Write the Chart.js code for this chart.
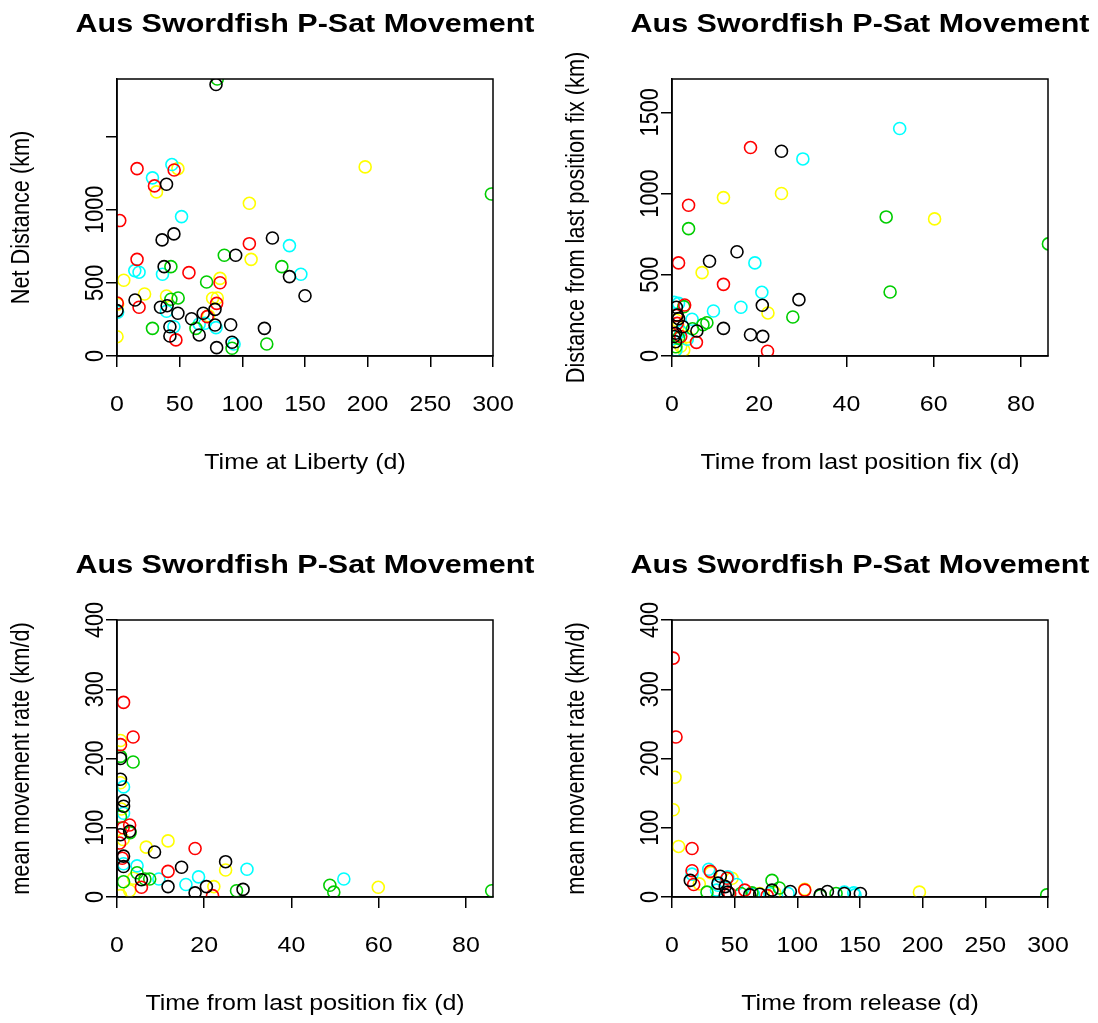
<!DOCTYPE html>
<html>
<head>
<meta charset="utf-8">
<script src="https://cdn.jsdelivr.net/npm/chart.js@4.4.1/dist/chart.umd.min.js"></script>
<style>
  body { margin: 0; background: #fff; width: 1098px; height: 1023px; position: relative; overflow: hidden; }
  canvas { position: absolute; }
</style>
</head>
<body>
<canvas id="c1" width="543" height="482" style="left:0;top:0"></canvas>
<canvas id="c2" width="543" height="482" style="left:555px;top:0"></canvas>
<canvas id="c3" width="543" height="482" style="left:0;top:541px"></canvas>
<canvas id="c4" width="543" height="482" style="left:555px;top:541px"></canvas>
<script>
// colours used per tag group (R palette: black, red, green3, cyan, yellow)
const seriesColors = ['#000000', '#FF0000', '#00CD00', '#00FFFF', '#FFFF00'];

// tick values
const releaseTicks = [0, 50, 100, 150, 200, 250, 300];
const fixTicks = [0, 20, 40, 60, 80];
const distTicks = [0, 500, 1000, 1500];
const rateTicks = [0, 100, 200, 300, 400];

// Panel 1: time at liberty (d) vs net distance (km)
const libBlack = [[0,310],[14.4,383],[34.7,333],[40,344],[36,794],[37.6,611],[39.5,1174],[42.2,200],[42.2,137],[45.4,835],[48.6,292],[59.5,255],[65.6,144],[68.8,292],[78.2,319],[78.2,212],[79,1856],[79.5,57],[90.7,214],[91.8,94],[94.7,689],[117.6,189],[124,807],[137.6,543],[150,412]];
const libRed = [[0.2,362],[2.2,926],[16,1281],[16,661],[17.6,333],[29.9,1163],[45.6,1272],[47,110],[57.4,570],[72,269],[79.5,360],[82.2,501],[105.6,768]];
const libGreen = [[28.3,189],[43,611],[43,388],[48.8,397],[63,189],[71.5,506],[80,1894],[85.6,689],[91.8,53],[119.5,82],[131.5,611],[298.7,1108]];
const libCyan = [[0.5,300],[14.2,584],[17.6,573],[28.3,1218],[36.3,559],[39.5,306],[43.8,1309],[45.4,200],[51.5,953],[65.6,219],[70.2,224],[79,194],[93.4,82],[137.6,755],[146.7,559]];
const libYellow = [[0,132],[0.5,355],[5.4,518],[22,424],[31.5,1122],[39.5,410],[48.6,1281],[73,275],[76.3,395],[80,397],[82.2,531],[105.6,1044],[107,661],[198,1293]];

// Panel 2: time from last position fix (d) vs distance from last fix (km)
const fixBlack = [[0.8,140],[0.8,88],[1.2,252],[1,300],[1.5,230],[2.5,180],[0.5,120],[5.7,154],[8.6,583],[11.8,170],[14.9,642],[18,131],[20.8,121],[20.7,312],[25.1,1260],[29.1,347]];
const fixRed = [[1.2,201],[1.5,573],[2.9,314],[3.8,928],[5.6,84],[11.8,441],[18,1283],[21.9,29],[1,250],[2,120]];
const fixGreen = [[0.9,57],[2.7,304],[3.8,784],[4.7,168],[7.1,193],[8,205],[27.7,240],[49.1,856],[50,394],[86.3,690],[1.5,110]];
const fixCyan = [[0.9,37],[1.5,324],[3.5,103],[4.6,226],[9.5,277],[15.8,300],[19,573],[20.6,392],[30,1213],[52.2,1400],[0.5,330],[2,150]];
const fixYellow = [[1.4,181],[2.7,37],[3.5,119],[6.9,513],[11.8,975],[22,265],[25.1,1000],[60.2,844],[1,220],[2,60]];

// Panel 3: time from last position fix (d) vs mean movement rate (km/d)
const rateFixBlack = [[0.8,200],[0.8,170],[1.5,139],[1.5,131],[2.9,95],[0.8,90],[1.5,59],[1.5,44],[5.6,25],[8.6,65],[11.7,15],[14.8,43],[17.9,6],[20.5,15],[24.9,51],[28.9,11]];
const rateFixRed = [[0.8,220],[1.5,281],[3.7,231],[2.9,104],[1.4,100],[0.6,78],[1.2,56],[5.6,14],[11.7,37],[17.9,70],[21.9,2]];
const rateFixGreen = [[0.8,203],[3.7,195],[0.8,116],[3,93],[4.6,35],[6.4,26],[7.5,26],[1.5,22],[27.4,9],[48.8,17],[49.7,7],[85.9,9]];
const rateFixCyan = [[1.5,159],[1.5,121],[1.5,48],[4.6,45],[9.6,26],[15.8,18],[18.7,29],[29.8,40],[52,26]];
const rateFixYellow = [[0.8,226],[0.8,165],[1,127],[1.4,83],[3.8,27],[2.9,9],[0.8,2],[6.7,72],[11.7,81],[22.2,15],[24.9,39],[59.9,14]];

// Panel 4: time from release (d) vs mean movement rate (km/d)
const rateRelBlack = [[14.6,24],[36.7,20],[38.5,30],[42.5,15],[42.5,3],[44.5,7],[62,3],[70,4],[79.8,10],[94.4,8],[118.3,3],[124,8],[137.5,5],[150.3,5]];
const rateRelRed = [[1,345],[3.2,231],[16,70],[16,38],[17.3,18],[30.6,37],[43.9,27],[46,5],[58,10],[76,2],[105.9,10]];
const rateRelGreen = [[27.9,7],[55,5],[63.8,6],[79.8,24],[85.6,13],[118.3,2],[130.9,5],[299,3]];
const rateRelCyan = [[16,33],[29.3,40],[35.5,10],[36.7,17],[44.5,29],[51.6,18],[65,4],[78,5],[92.6,5],[137.5,7],[145,6],[146,3]];
const rateRelYellow = [[1,126],[2.4,173],[5.3,73],[21.8,19],[31,35],[47.9,27],[70,5],[82,6],[105.9,11],[197.4,7]];

const FONT = '"Liberation Sans", Arial, sans-serif';
const TITLE = 'Aus Swordfish P-Sat Movement';
const TEXT_FONT = '21.7px ' + FONT;
const TITLE_FONT = 'bold 26.5px ' + FONT;
// the source picture is a little wider than tall, so text is stretched sideways
const SX = 1.15;

function stretchText(ctx, text, x, y, font, rotated) {
  ctx.save();
  ctx.translate(x, y);
  ctx.scale(SX, 1);
  if (rotated) ctx.rotate(-Math.PI / 2);
  ctx.font = font;
  ctx.fillText(text, 0, 0);
  ctx.restore();
}

// box, tick labels and titles, drawn the way R's plot() does
const rPlot = {
  id: 'rPlot',
  afterDraw(chart, args, opts) {
    const { ctx, chartArea: a, scales } = chart;
    ctx.save();
    ctx.strokeStyle = '#000';
    ctx.lineWidth = 1.5;
    ctx.strokeRect(a.left, a.top, a.right - a.left, a.bottom - a.top);

    ctx.fillStyle = '#000';
    ctx.textAlign = 'center';
    ctx.textBaseline = 'middle';

    scales.x.ticks.forEach(t => {
      stretchText(ctx, String(t.value), scales.x.getPixelForValue(t.value), 405, TEXT_FONT, false);
    });
    scales.y.ticks.forEach(t => {
      if ((opts.hideY || []).includes(t.value)) return;
      stretchText(ctx, String(t.value), 96, scales.y.getPixelForValue(t.value), TEXT_FONT, true);
    });

    stretchText(ctx, opts.yTitle, 22, (a.top + a.bottom) / 2, TEXT_FONT, true);
    stretchText(ctx, opts.xTitle, (a.left + a.right) / 2, 463, TEXT_FONT, false);
    stretchText(ctx, TITLE, (a.left + a.right) / 2, 25, TITLE_FONT, false);
    ctx.restore();
  }
};

function makePanel(id, series, o) {
  const datasets = series.map((pts, i) => ({
    data: pts.map(p => ({ x: p[0], y: p[1] })),
    pointStyle: 'circle',
    pointRadius: 6,
    pointHoverRadius: 6,
    pointBorderWidth: 1.6,
    pointBorderColor: seriesColors[i],
    pointBackgroundColor: 'rgba(0,0,0,0)',
    showLine: false
  }));

  new Chart(document.getElementById(id), {
    type: 'scatter',
    data: { datasets },
    options: {
      responsive: false,
      animation: false,
      events: [],
      layout: { padding: { top: 79, right: 50, left: 0, bottom: 0 } },
      plugins: {
        legend: { display: false },
        tooltip: { enabled: false },
        rPlot: { xTitle: o.xTitle, yTitle: o.yTitle, hideY: o.hideY }
      },
      scales: {
        x: {
          type: 'linear', min: 0, max: o.xMax,
          afterBuildTicks: s => { s.ticks = o.xTicks.map(v => ({ value: v })); },
          afterFit: s => { s.height = 126; },
          ticks: { autoSkip: false, maxRotation: 0, minRotation: 0, color: 'rgba(0,0,0,0)' },
          grid: { drawOnChartArea: false, tickLength: 11, color: '#000', lineWidth: 1.5 },
          border: { color: '#000', width: 1.5 }
        },
        y: {
          type: 'linear', min: 0, max: o.yMax,
          afterBuildTicks: s => { s.ticks = o.yTicks.map(v => ({ value: v })); },
          afterFit: s => { s.width = 117; },
          ticks: { autoSkip: false, color: 'rgba(0,0,0,0)' },
          grid: { drawOnChartArea: false, tickLength: 11, color: '#000', lineWidth: 1.5 },
          border: { color: '#000', width: 1.5 }
        }
      }
    },
    plugins: [rPlot]
  });
}

makePanel('c1', [libBlack, libRed, libGreen, libCyan, libYellow], {
  xMax: 300, xTicks: releaseTicks, yMax: 1894, yTicks: distTicks, hideY: [1500],
  xTitle: 'Time at Liberty (d)', yTitle: 'Net Distance (km)'
});
makePanel('c2', [fixBlack, fixRed, fixGreen, fixCyan, fixYellow], {
  xMax: 86.2, xTicks: fixTicks, yMax: 1705, yTicks: distTicks,
  xTitle: 'Time from last position fix (d)', yTitle: 'Distance from last position fix (km)'
});
makePanel('c3', [rateFixBlack, rateFixRed, rateFixGreen, rateFixCyan, rateFixYellow], {
  xMax: 86.2, xTicks: fixTicks, yMax: 400, yTicks: rateTicks,
  xTitle: 'Time from last position fix (d)', yTitle: 'mean movement rate (km/d)'
});
makePanel('c4', [rateRelBlack, rateRelRed, rateRelGreen, rateRelCyan, rateRelYellow], {
  xMax: 300, xTicks: releaseTicks, yMax: 400, yTicks: rateTicks,
  xTitle: 'Time from release (d)', yTitle: 'mean movement rate (km/d)'
});
</script>
</body>
</html>
